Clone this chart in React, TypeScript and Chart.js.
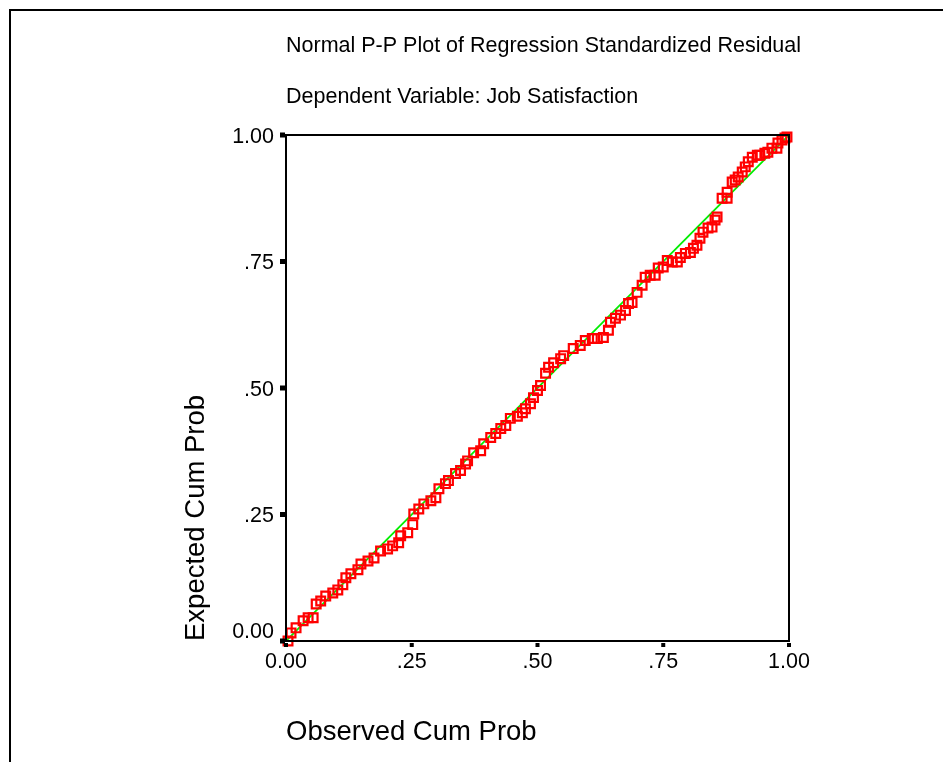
import React, { useEffect, useRef } from "react";
import { Chart, registerables } from "chart.js";

Chart.register(...registerables);

const titleLines = [
  "Normal P-P Plot of Regression Standardized Residual",
  "Dependent Variable: Job Satisfaction",
];
const xAxisTitle = "Observed Cum Prob";
const yAxisTitle = "Expected Cum Prob";

const tickValues = [0, 0.25, 0.5, 0.75, 1];
const tickLabels = ["0.00", ".25", ".50", ".75", "1.00"];

const observedCumProb = [
  0.004, 0.01, 0.02, 0.034, 0.044, 0.054, 0.06, 0.069, 0.079, 0.093,
  0.103, 0.113, 0.119, 0.129, 0.143, 0.149, 0.163, 0.175, 0.188, 0.202,
  0.212, 0.224, 0.228, 0.242, 0.252, 0.254, 0.264, 0.274, 0.288, 0.298,
  0.304, 0.317, 0.323, 0.337, 0.347, 0.357, 0.361, 0.373, 0.387, 0.393,
  0.407, 0.417, 0.427, 0.437, 0.446, 0.46, 0.47, 0.476, 0.486, 0.492,
  0.5, 0.506, 0.516, 0.522, 0.532, 0.546, 0.552, 0.571, 0.585, 0.595,
  0.609, 0.619, 0.631, 0.641, 0.645, 0.655, 0.665, 0.675, 0.681, 0.688,
  0.698, 0.708, 0.714, 0.724, 0.734, 0.74, 0.75, 0.758, 0.768, 0.778,
  0.784, 0.794, 0.804, 0.81, 0.817, 0.823, 0.829, 0.839, 0.847, 0.853,
  0.857, 0.867, 0.877, 0.877, 0.887, 0.893, 0.899, 0.907, 0.913, 0.919,
  0.927, 0.937, 0.942, 0.952, 0.958, 0.966, 0.976, 0.978, 0.986, 0.992,
  0.996,
];

const expectedCumProb = [
  0.0, 0.016, 0.026, 0.04, 0.046, 0.046, 0.073, 0.079, 0.089, 0.095,
  0.101, 0.111, 0.125, 0.133, 0.141, 0.152, 0.158, 0.164, 0.178, 0.182,
  0.188, 0.194, 0.208, 0.214, 0.23, 0.251, 0.261, 0.271, 0.277, 0.283,
  0.301, 0.311, 0.317, 0.331, 0.337, 0.35, 0.356, 0.372, 0.376, 0.39,
  0.402, 0.41, 0.42, 0.426, 0.44, 0.444, 0.451, 0.459, 0.469, 0.481,
  0.495, 0.505, 0.529, 0.541, 0.55, 0.558, 0.564, 0.578, 0.584, 0.594,
  0.598, 0.598, 0.6, 0.614, 0.63, 0.638, 0.644, 0.653, 0.667, 0.669,
  0.689, 0.703, 0.719, 0.723, 0.723, 0.737, 0.739, 0.752, 0.749, 0.749,
  0.758, 0.766, 0.768, 0.776, 0.782, 0.796, 0.808, 0.816, 0.818, 0.832,
  0.838, 0.875, 0.875, 0.887, 0.907, 0.911, 0.917, 0.927, 0.937, 0.947,
  0.956, 0.96, 0.96, 0.964, 0.966, 0.974, 0.974, 0.984, 0.99, 0.994,
  0.996,
];

const refLine = [
  { x: 0, y: 0 },
  { x: 1, y: 1 },
];

const FONT = "'Liberation Sans', Arial, sans-serif";

const decorPlugin = {
  id: "decor",
  beforeDraw(chart: any) {
    const ctx = chart.ctx;
    ctx.save();
    ctx.fillStyle = "#ffffff";
    ctx.fillRect(0, 0, chart.width, chart.height);
    ctx.restore();
  },
  afterDraw(chart: any) {
    const ctx = chart.ctx;
    const { left, right, top, bottom } = chart.chartArea;
    const xs = chart.scales.x;
    const ys = chart.scales.y;
    ctx.save();
    // page frame
    ctx.fillStyle = "#000000";
    ctx.fillRect(9, 9, 2, chart.height);
    ctx.fillRect(9, 9, chart.width, 2);
    // plot box
    ctx.strokeStyle = "#000000";
    ctx.lineWidth = 2;
    ctx.strokeRect(left, top, right - left, bottom - top);
    // tick marks
    tickValues.forEach((v) => {
      const py = ys.getPixelForValue(v);
      ctx.fillRect(left - 6, py - 2.5, 5, 5);
      const px = xs.getPixelForValue(v);
      ctx.fillRect(px - 2, bottom + 2, 4, 4);
    });
    // tick labels
    ctx.font = `21.5px ${FONT}`;
    ctx.fillStyle = "#000000";
    ctx.textBaseline = "middle";
    ctx.textAlign = "right";
    tickValues.forEach((v, i) => {
      let py = ys.getPixelForValue(v);
      if (v === 0) py -= 11;
      ctx.fillText(tickLabels[i], left - 12, py + 2);
    });
    ctx.textAlign = "center";
    tickValues.forEach((v, i) => {
      const px = xs.getPixelForValue(v);
      ctx.fillText(tickLabels[i], px, bottom + 21);
    });
    // titles
    ctx.textAlign = "left";
    ctx.textBaseline = "alphabetic";
    ctx.fillText(titleLines[0], left, 52);
    ctx.fillText(titleLines[1], left, 103);
    // axis titles
    ctx.font = `27.5px ${FONT}`;
    ctx.fillText(xAxisTitle, left, 740);
    ctx.translate(204, bottom);
    ctx.rotate(-Math.PI / 2);
    ctx.fillText(yAxisTitle, 0, 0);
    ctx.restore();
  },
};

export default function App() {
  const ref = useRef<HTMLCanvasElement | null>(null);
  useEffect(() => {
    if (!ref.current) return;
    const points = observedCumProb.map((x, i) => ({ x, y: expectedCumProb[i] }));
    const chart = new Chart(ref.current, {
      type: "scatter",
      data: {
        datasets: [
          {
            type: "scatter",
            data: points,
            pointStyle: "rect",
            pointRadius: 6.2,
            pointHoverRadius: 6.2,
            borderColor: "#ff0000",
            backgroundColor: "rgba(0,0,0,0)",
            borderWidth: 2.2,
            clip: false,
          } as any,
          {
            type: "line",
            data: refLine,
            borderColor: "#00ee00",
            borderWidth: 1.8,
            pointRadius: 0,
            fill: false,
          } as any,
        ],
      },
      options: {
        responsive: false,
        animation: false,
        layout: { padding: { left: 286, top: 135, right: 154, bottom: 121 } },
        plugins: {
          legend: { display: false },
          tooltip: { enabled: false },
          title: { display: false },
        },
        scales: {
          x: { type: "linear", min: 0, max: 1, display: false },
          y: { type: "linear", min: 0, max: 1, display: false },
        },
        events: [],
      },
      plugins: [decorPlugin],
    });
    return () => chart.destroy();
  }, []);
  return (
    <div style={{ position: "fixed", left: 0, top: 0, width: 943, height: 762, background: "#fff" }}>
      <canvas ref={ref} width={943} height={762} style={{ display: "block" }} />
    </div>
  );
}
